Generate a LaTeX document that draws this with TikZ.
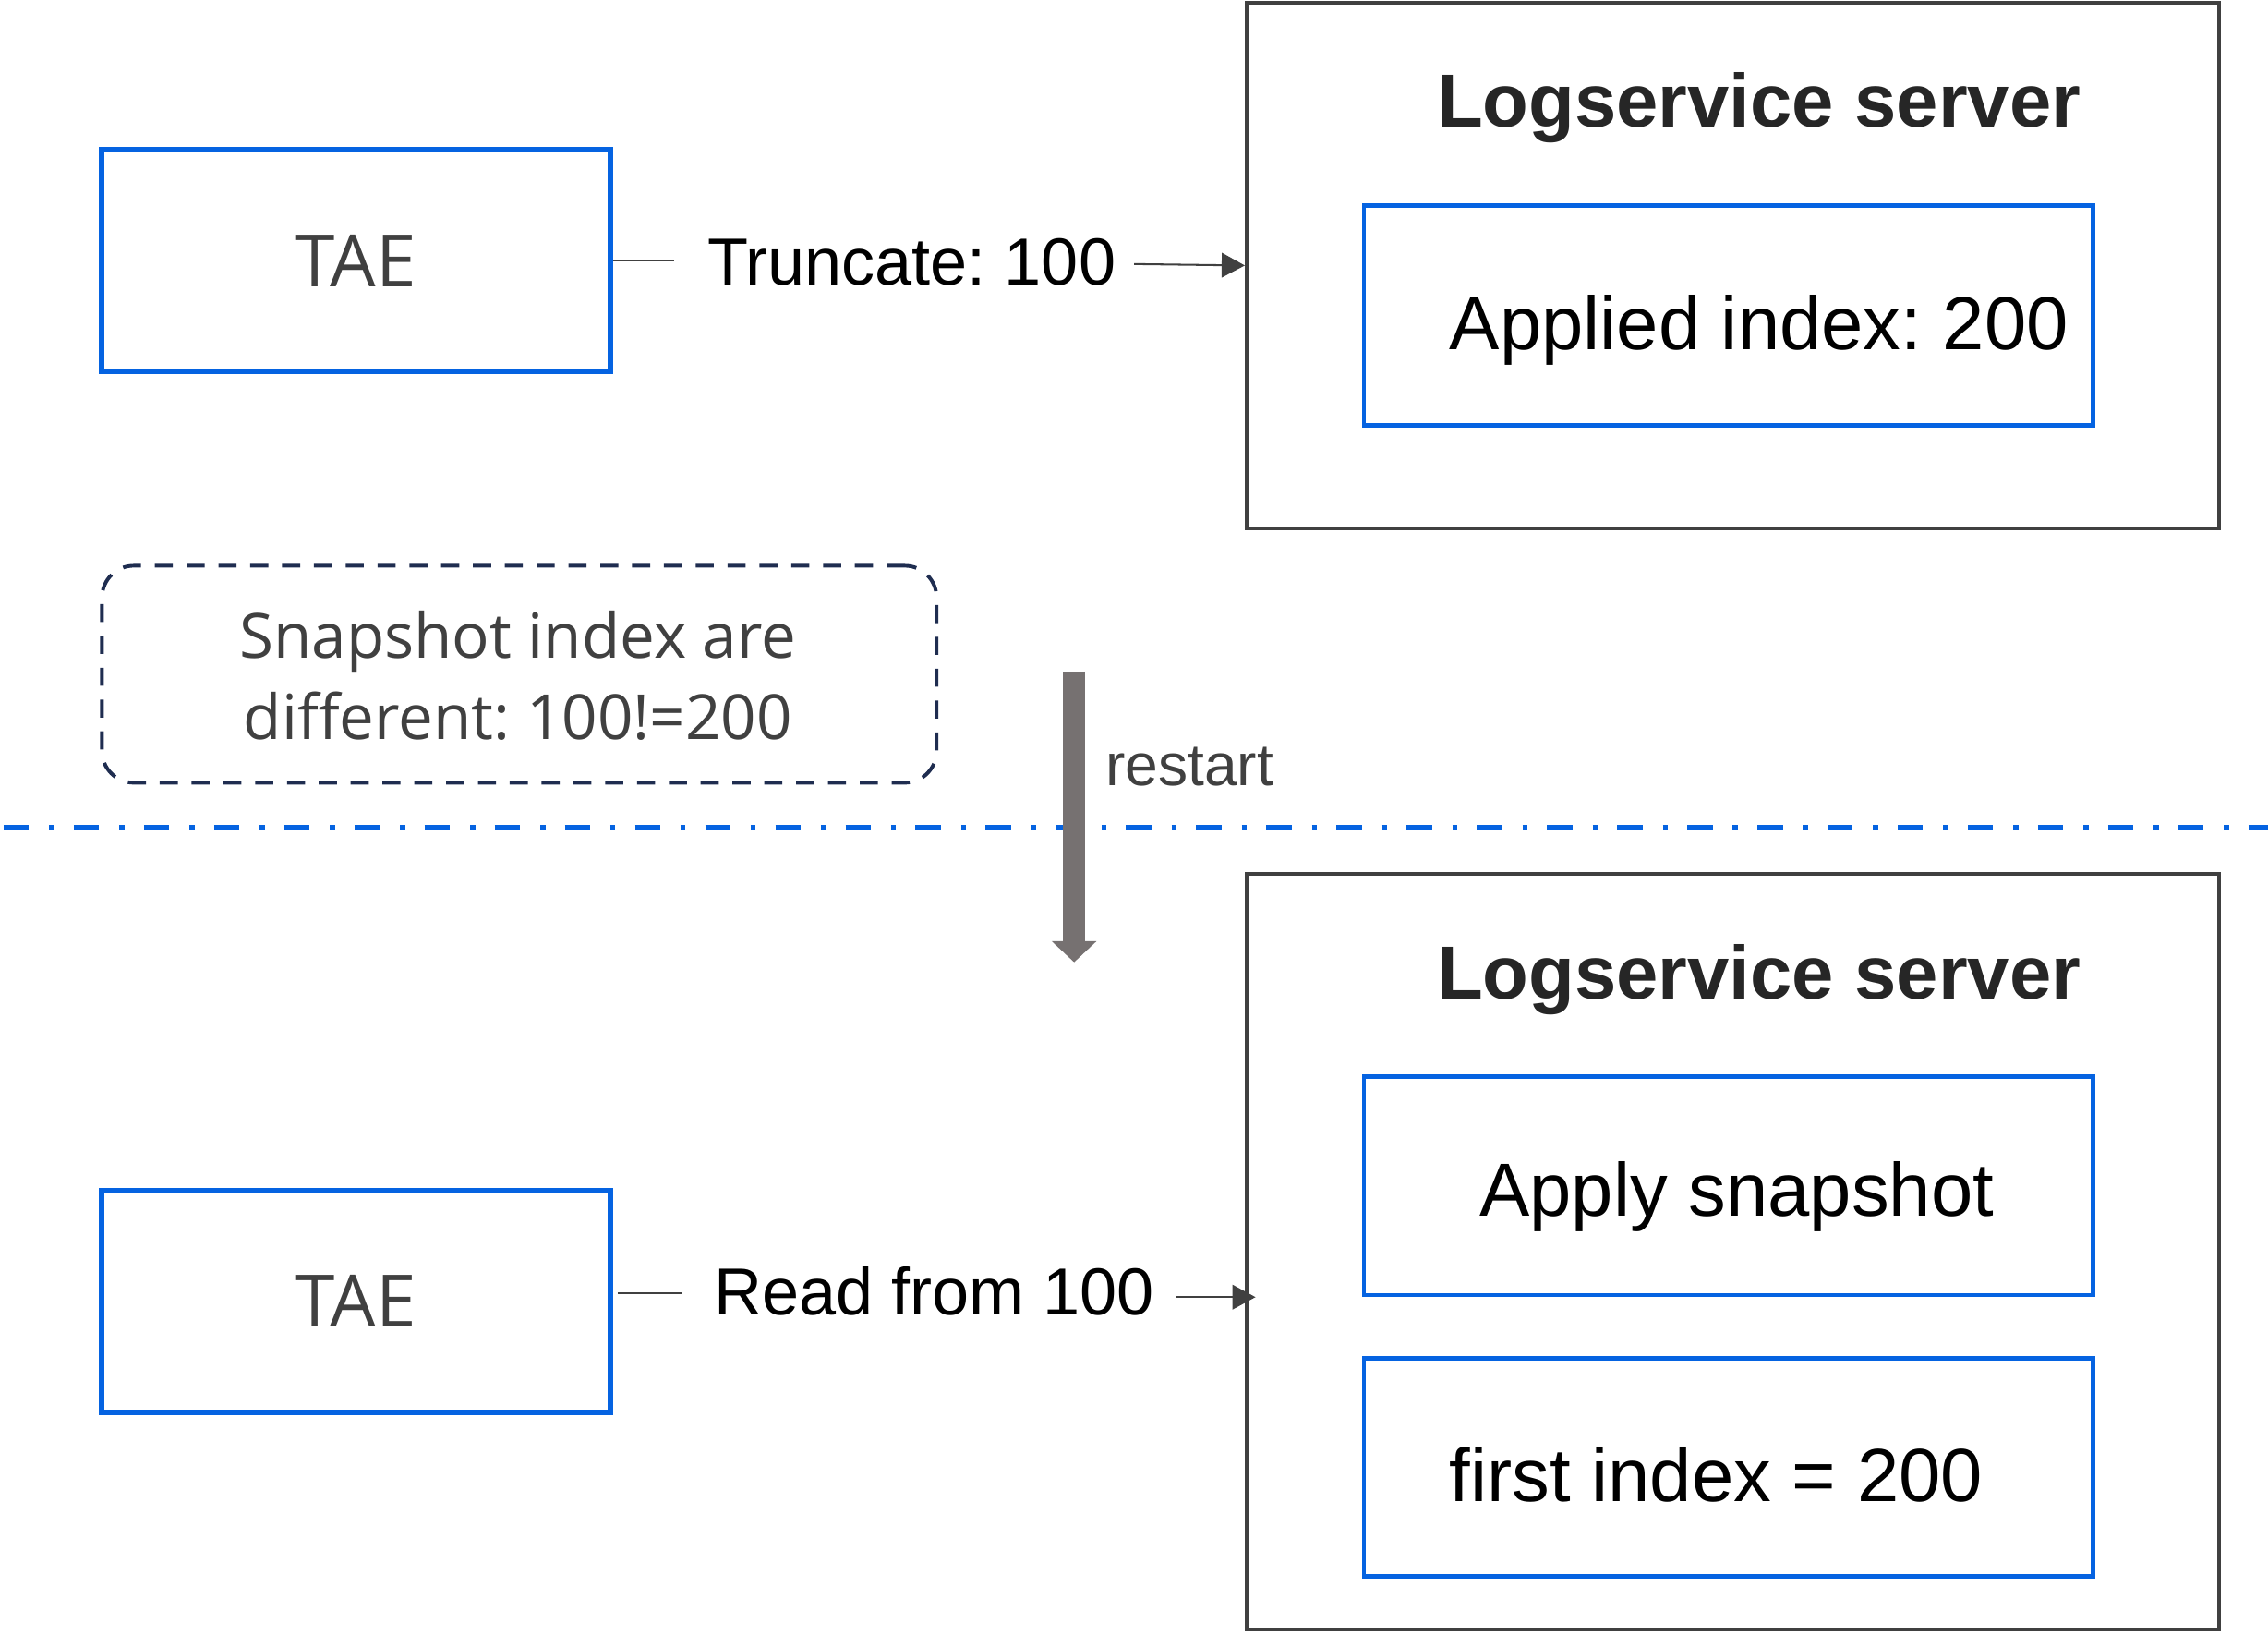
\documentclass[tikz,border=0pt]{standalone}
\usepackage{fontspec}
\setmainfont{Liberation Sans}
\newfontfamily\lightfont{Open Sans}
\usetikzlibrary{arrows.meta}
\definecolor{boxblue}{RGB}{5,99,225}
\definecolor{srvgray}{RGB}{64,64,64}
\definecolor{navy}{RGB}{31,45,80}
\definecolor{arrowgray}{RGB}{118,113,113}
\definecolor{txtgray}{RGB}{64,64,64}
\definecolor{titlegray}{RGB}{38,38,38}
\frenchspacing
\begin{document}
\begin{tikzpicture}[x=1pt,y=-1pt,
  taebox/.style={draw=boxblue, line width=4pt, minimum width=352pt, minimum height=153pt, inner sep=0pt, text=txtgray, font=\lightfont\fontsize{50}{60}\selectfont},
  srvbox/.style={draw=srvgray, line width=2.8pt, inner sep=0pt, minimum width=672pt},
  innerbox/.style={draw=boxblue, line width=3pt, minimum width=504pt, inner sep=0pt},
  lbl/.style={inner sep=0pt, font=\fontsize{46}{55}\selectfont},
  inlbl/.style={inner sep=0pt, font=\fontsize{52}{62}\selectfont},
  titletxt/.style={inner sep=0pt, text=titlegray, font=\bfseries\fontsize{52}{62}\selectfont},
  notetxt/.style={inner sep=0pt, text=txtgray, font=\lightfont\fontsize{43}{55}\selectfont},
  conn/.style={draw=srvgray, line width=1.3pt},
  arr/.style={-{Triangle[length=16pt,width=17pt]}}
]
\useasboundingbox[fill=white] (0,0) rectangle (1568,1129.4);

% separator line
\coordinate (dl) at (2.5,572);
\coordinate (dr) at (1568,572);
\draw[boxblue, line width=3.8pt, dash pattern=on 17.5pt off 14pt on 3.5pt off 13.5pt] (dl) -- (dr);

% top part
\node[taebox] (tae1) at (246,180) {TAE};
\node[srvbox, minimum height=363pt] (srv1) at (1198,183.5) {};
\node[titletxt, anchor=base] (title1) at (1216,88) {Logservice server};
\node[innerbox, minimum height=152pt] (in1) at (1195,218) {};
\node[inlbl, anchor=base west] (applied) at (1002,241.5) {Applied index: 200};
\node[lbl, anchor=base west] (lbl1) at (489,197) {Truncate: 100};
\coordinate (c1) at (466,180);
\draw[conn] (tae1.east) -- (c1);
\coordinate (c2) at (784,182.5);
\draw[conn, arr] (c2) -- (srv1.west);

% note
\node[draw=navy, line width=2.5pt, dash pattern=on 12.5pt off 9.5pt, rounded corners=22pt, minimum width=577pt, minimum height=150pt, inner sep=0pt] (note) at (359,466) {};
\node[notetxt, anchor=base] (note1) at (358,455) {Snapshot index are};
\node[notetxt, anchor=base] (note2) at (358,511) {different: 100!=200};

% restart arrow
\coordinate (rs) at (742.6,464);
\coordinate (rm) at (742.6,650.5);
\coordinate (re) at (742.6,665);
\draw[arrowgray, line width=15pt] (rs) -- (rm);
\fill[arrowgray] ([xshift=-15.5pt]rm) -- ([xshift=15.5pt]rm) -- (re) -- cycle;
\node[inner sep=0pt, text=txtgray, font=\fontsize{41}{50}\selectfont, anchor=base west] (restart) at (764,543) {restart};

% bottom part
\node[taebox] (tae2) at (246,899.5) {TAE};
\node[srvbox, minimum height=522pt] (srv2) at (1198,865) {};
\node[titletxt, anchor=base] (title2) at (1216,690.6) {Logservice server};
\node[innerbox, minimum height=151pt] (in2) at (1195,819.5) {};
\node[inlbl, anchor=base] (apply) at (1200.7,840.6) {Apply snapshot};
\node[innerbox, minimum height=150.6pt] (in3) at (1195,1014.3) {};
\node[inlbl, anchor=base west] (first) at (1002,1037.6) {first index = 200};
\node[lbl, anchor=base west] (lbl2) at (493.6,909) {Read from 100};
\coordinate (c4) at (471,894);
\draw[conn] ([xshift=3pt]tae2.east |- c4) -- (c4);
\coordinate (c5) at (813,896.5);
\coordinate (c6) at (868,896.5);
\draw[conn, arr] (c5) -- (c6);
\end{tikzpicture}
\end{document}
